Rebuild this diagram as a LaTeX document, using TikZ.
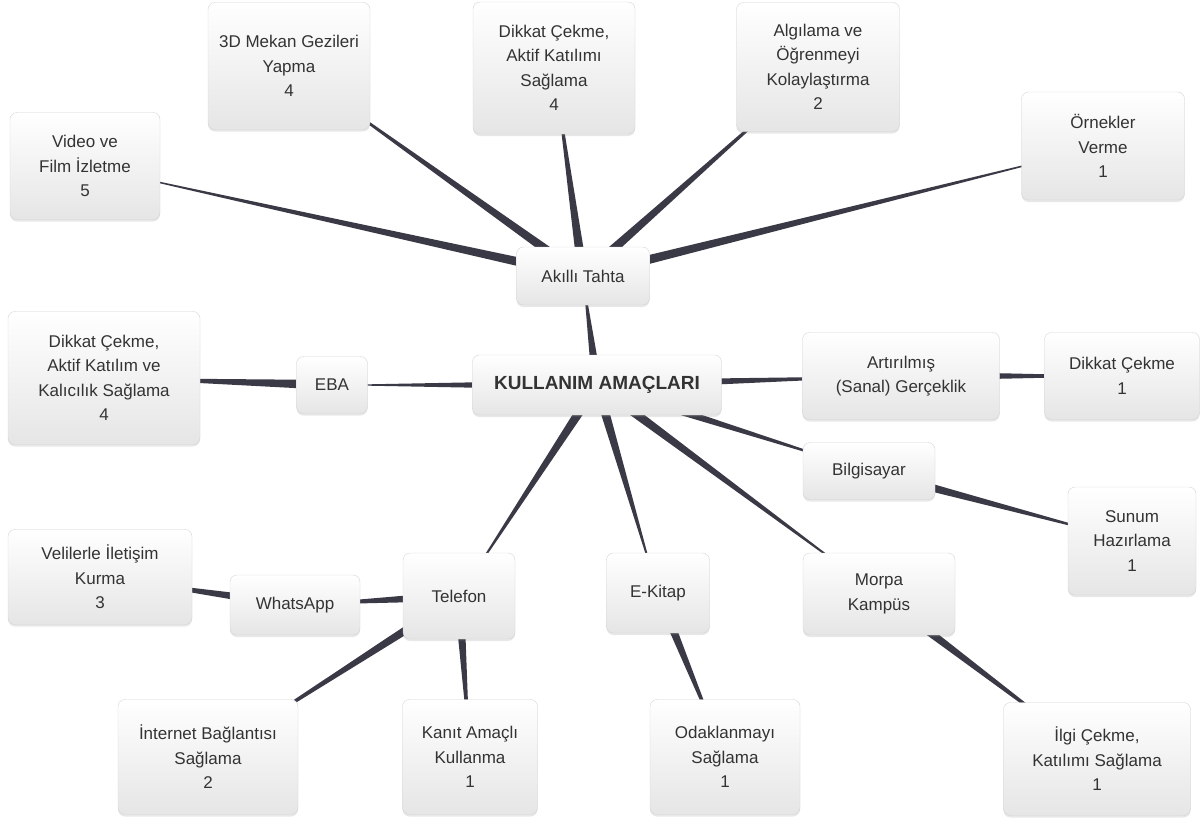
\documentclass[tikz,border=0pt]{standalone}
\usepackage{fontspec}
\setmainfont{Liberation Sans}
\usetikzlibrary{calc,shadows,backgrounds}
\definecolor{wedge-gray}{HTML}{3A3A46}
\definecolor{box-line}{HTML}{D4D4D4}
\definecolor{box-text}{HTML}{333333}

\tikzset{
  topic/.style={draw=box-line, rounded corners=7pt, top color=white, bottom color=black!10,
    align=center, text=box-text, font=\fontsize{17}{24.5}\selectfont, inner sep=3pt,
    drop shadow={shadow xshift=0pt, shadow yshift=-2pt, opacity=0.18}},
  boxsize/.style 2 args={minimum width=#1pt, minimum height=#2pt},
}
\newcommand{\branch}[3][5pt]{%
  \fill[wedge-gray] ($(#2.center)!#1!90:(#3.center)$) -- ($(#2.center)!#1!-90:(#3.center)$) -- (#3.center) -- cycle;}

\begin{document}
\begin{tikzpicture}[x=1pt,y=-1pt]
\useasboundingbox (0,0) rectangle (1203,825);

% centre
\node[topic, boxsize={249}{60}, font=\fontsize{19}{24.5}\selectfont\bfseries] (root) at (597,385) {KULLANIM AMAÇLARI};

% Akilli Tahta
\node[topic, boxsize={133}{58}] (tahta) at (583,276) {Akıllı Tahta};
\node[topic, boxsize={150}{107}] (video) at (85,166) {Video ve\\Film İzletme\\5};
\node[topic, boxsize={162}{127}] (mekan) at (289,66) {3D Mekan Gezileri\\Yapma\\4};
\node[topic, boxsize={162}{132}] (dikkat) at (554,68) {Dikkat Çekme,\\Aktif Katılımı\\Sağlama\\4};
\node[topic, boxsize={163}{129}] (algi) at (818,67) {Algılama ve\\Öğrenmeyi\\Kolaylaştırma\\2};
\node[topic, boxsize={163}{108}] (ornek) at (1103,146) {Örnekler\\Verme\\1};

% EBA
\node[topic, boxsize={71}{57}] (eba) at (332,385) {EBA};
\node[topic, boxsize={192}{133}] (ebadikkat) at (104,378) {Dikkat Çekme,\\Aktif Katılım ve\\Kalıcılık Sağlama\\4};

% Artirilmis gerceklik, bilgisayar
\node[topic, boxsize={197}{87}] (ar) at (901,376) {Artırılmış\\(Sanal) Gerçeklik};
\node[topic, boxsize={155}{87}] (ardikkat) at (1122,376) {Dikkat Çekme\\1};
\node[topic, boxsize={132}{57}] (pc) at (869,471) {Bilgisayar};
\node[topic, boxsize={128}{108}] (sunum) at (1132,541) {Sunum\\Hazırlama\\1};

% Morpa, E-Kitap
\node[topic, boxsize={152}{82}] (morpa) at (879,594) {Morpa\\Kampüs};
\node[topic, boxsize={187}{113}] (ilgi) at (1097,759) {İlgi Çekme,\\Katılımı Sağlama\\1};
\node[topic, boxsize={103}{80}] (ekitap) at (658,593) {E-Kitap};
\node[topic, boxsize={150}{115}] (odak) at (725,757) {Odaklanmayı\\Sağlama\\1};

% Telefon
\node[topic, boxsize={112}{86}] (tel) at (459,596) {Telefon};
\node[topic, boxsize={130}{60}] (whats) at (295,605) {WhatsApp};
\node[topic, boxsize={184}{95}] (veli) at (100,577) {Velilerle İletişim\\Kurma\\3};
\node[topic, boxsize={180}{115}] (internet) at (208,757) {İnternet Bağlantısı\\Sağlama\\2};
\node[topic, boxsize={135}{115}] (kanit) at (470,757) {Kanıt Amaçlı\\Kullanma\\1};

\begin{scope}[on background layer]
\foreach \p/\c in {root/tahta, root/eba, root/ar, root/pc, root/morpa, root/ekitap, root/tel,
    tahta/video, tahta/mekan, tahta/dikkat, tahta/algi, tahta/ornek,
    eba/ebadikkat, ar/ardikkat, pc/sunum, morpa/ilgi, ekitap/odak,
    tel/whats, tel/internet, tel/kanit, whats/veli}
  \branch{\p}{\c};
\end{scope}
\end{tikzpicture}
\end{document}
